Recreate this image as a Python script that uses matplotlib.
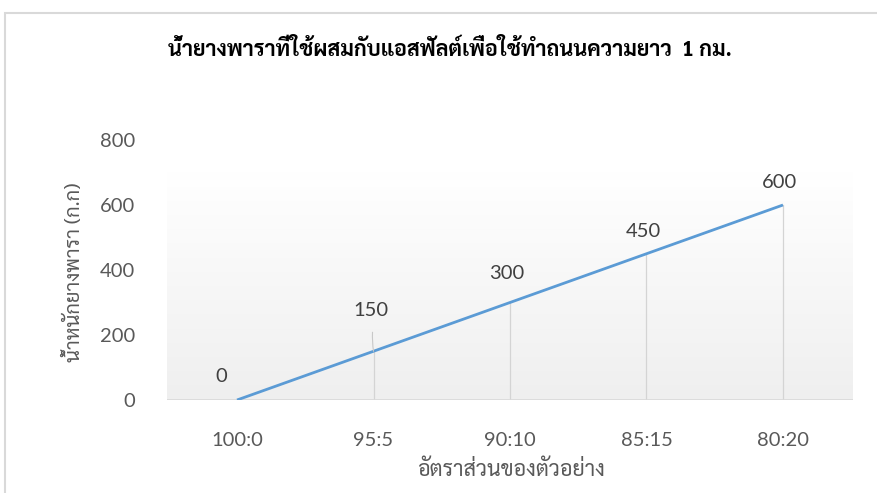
import matplotlib
matplotlib.use("Agg")
import matplotlib.pyplot as plt
import numpy as np
from matplotlib.patches import Rectangle
from matplotlib.colors import LinearSegmentedColormap

# Rubber latex required per 1 km of road, by latex:asphalt ratio
ratios = ["100:0", "95:5", "90:10", "85:15", "80:20"]
latex_kg = [0, 150, 300, 450, 600]
y_ticks = [0, 200, 400, 600, 800]

title = "น้ำยางพาราที่ใช้ผสมกับแอสฟัลต์เพื่อใช้ทำถนนความยาว  1 กม."
x_label = "อัตราส่วนของตัวอย่าง"
y_label = "น้ำหนักยางพารา (ก.ก)"

thai = ["Sarabun", "DejaVu Sans"]
num = ["Lato", "DejaVu Sans"]

W, H, DPI = 877, 493, 100
fig = plt.figure(figsize=(W / DPI, H / DPI), dpi=DPI)
fig.patch.set_facecolor("white")

# chart frame
fig.patches.append(Rectangle((5 / W, -0.1), 1.2, 1 - 13 / H + 0.1, transform=fig.transFigure,
                             fill=False, edgecolor="#d9d9d9", linewidth=1.5, zorder=0))

left, right = 167 / W, 853 / W
bottom, top = 1 - 400 / H, 1 - 140 / H
ax = fig.add_axes([left, bottom, right - left, top - bottom])
ax.set_facecolor("none")

x = np.arange(len(ratios))
ax.set_xlim(-0.513, len(ratios) - 1 + 0.513)
ax.set_ylim(0, 800)

# gradient plot-area wall
grad = np.linspace(0, 1, 256).reshape(-1, 1)
cmap = LinearSegmentedColormap.from_list("wall", ["#ffffff", "#efefef"])
ax.imshow(grad, aspect="auto", cmap=cmap, origin="upper",
          extent=(ax.get_xlim()[0], ax.get_xlim()[1], 0, 700), zorder=0)

# drop lines
for xi, v in zip(x, latex_kg):
    ax.plot([xi, xi], [0, v], color="#d4d4d4", linewidth=0.9, zorder=1)

ax.plot(x, latex_kg, color="#5b9bd5", linewidth=2.0, solid_capstyle="butt", zorder=3)

# data labels
offsets = [(-16, 24), (-3, 41), (-3, 29), (-3, 22), (-3, 22)]
for xi, v, (dx, dy) in zip(x, latex_kg, offsets):
    ax.annotate(f"{v}", (xi, v), xytext=(dx, dy), textcoords="offset pixels",
                ha="center", va="center", fontsize=14.5, color="#404040", family=num, zorder=4)
# leader line for the 150 label
ax.annotate("", (x[1], latex_kg[1]), xytext=(-1, 19), textcoords="offset pixels",
            arrowprops=dict(arrowstyle="-", color="#c8c8c8", lw=0.8,
                            connectionstyle="arc3,rad=0.05", shrinkA=0, shrinkB=0))

ax.axhline(0, color="#d9d9d9", linewidth=1.2, zorder=2)

for s in ax.spines.values():
    s.set_visible(False)
ax.set_xticks(x)
ax.set_xticklabels(ratios)
ax.set_yticks(y_ticks)
ax.tick_params(length=0, labelsize=14.5, labelcolor="#595959")
ax.tick_params(axis="y", pad=23)
ax.tick_params(axis="x", pad=23)
for lab in ax.get_xticklabels() + ax.get_yticklabels():
    lab.set_family(num)

fig.text(450 / W, 1 - 50 / H, title, ha="center", va="center", fontsize=15.5,
         fontweight="bold", color="#000000", family=thai)
fig.text(511 / W, 1 - 470 / H, x_label, ha="center", va="center", fontsize=15.5,
         color="#595959", family=thai)
fig.text(74 / W, 1 - 272 / H, y_label, ha="center", va="center", rotation=90,
         fontsize=14.5, color="#595959", family=thai)

fig.savefig("out.png", dpi=DPI)
